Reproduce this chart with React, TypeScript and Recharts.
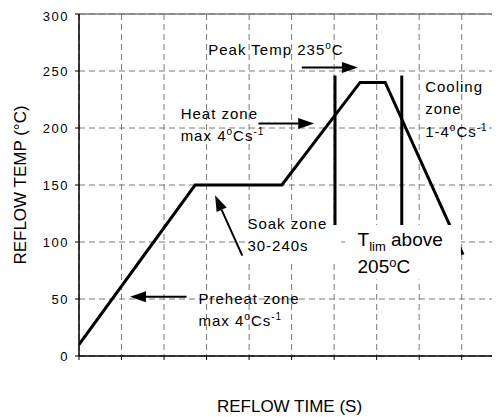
import React from "react";
import {
  CartesianGrid,
  Line,
  LineChart,
  ReferenceArea,
  ReferenceDot,
  ReferenceLine,
  XAxis,
  YAxis,
  Label,
} from "recharts";

// reflow profile, time in grid units, temp in °C
const profileTime = [0, 2.73, 4.77, 6.61, 7.2, 9.03];
const profileTemp = [10, 150, 150, 240, 240, 89];

const timeTicks = [0, 1, 2, 3, 4, 5, 6, 7, 8, 9];
const tempTicks = [0, 50, 100, 150, 200, 250, 300];

// T_lim window bars
const tlimTimes = [6.02, 7.59];
const tlimTop = 246;
const tlimBottom = 95;

// arrows: tail -> tip
const arrowTails = [
  [5.24, 253],
  [4.22, 204],
  [2.53, 52],
  [3.84, 88],
];
const arrowTips = [
  [6.56, 253],
  [5.53, 204],
  [1.2, 52],
  [3.2, 141],
];

// white boxes behind the soak and T_lim notes
const boxTimes = [
  [3.9, 6.16],
  [6.28, 8.98],
];
const boxTemps = [
  [115, 82],
  [115, 67],
];

type Seg = string | { sup: string } | { sub: string };

const notes: { at: number[]; lines: Seg[][]; big?: boolean }[] = [
  { at: [3.04, 264], lines: [["Peak Temp 235", { sup: "o" }, "C"]] },
  { at: [2.39, 208], lines: [["Heat zone"], ["max 4", { sup: "o" }, "Cs", { sup: "-1" }]] },
  { at: [8.14, 232], lines: [["Cooling"], ["zone"], ["1-4", { sup: "o" }, "Cs", { sup: "-1" }]] },
  { at: [3.96, 111.5], lines: [["Soak zone"], ["30-240s"]] },
  { at: [2.81, 46], lines: [["Preheat zone"], ["max 4", { sup: "o" }, "Cs", { sup: "-1" }]] },
  { at: [6.55, 96.5], lines: [["T", { sub: "lim" }, " above"], ["205", { sup: "o" }, "C"]], big: true },
];

const data = profileTime.map((t, i) => ({ t, temp: profileTemp[i] }));

const FONT = "'Liberation Sans', Arial, sans-serif";

const ArrowShape = (props: any) => {
  const x1 = Number(props.x1);
  const y1 = Number(props.y1);
  const x2 = Number(props.x2);
  const y2 = Number(props.y2);
  const dx = x2 - x1;
  const dy = y2 - y1;
  const len = Math.hypot(dx, dy) || 1;
  const ux = dx / len;
  const uy = dy / len;
  const hl = 16;
  const hw = 5.5;
  const bx = x2 - ux * hl;
  const by = y2 - uy * hl;
  return (
    <g>
      <line x1={x1} y1={y1} x2={bx} y2={by} stroke="#000" strokeWidth={2} />
      <polygon
        points={`${x2},${y2} ${bx - uy * hw},${by + ux * hw} ${bx + uy * hw},${by - ux * hw}`}
        fill="#000"
      />
    </g>
  );
};

const noteShape = (note: (typeof notes)[number]) => (props: any) => {
  const size = note.big ? 19 : 15;
  const small = note.big ? 13 : 10;
  const lh = note.big ? 27.5 : 22.5;
  return (
    <text
      fontFamily={FONT}
      fontSize={size}
      fill="#000"
      letterSpacing={note.big ? 0 : 1}
    >
      {note.lines.map((line, i) => {
        let shift = 0;
        return (
          <tspan key={i} x={props.cx} y={props.cy + i * lh}>
            {line.map((seg, j) => {
              let target = 0;
              let text = "";
              let fs: number | undefined;
              if (typeof seg === "string") {
                text = seg;
              } else if ("sup" in seg) {
                text = seg.sup;
                target = -6;
                fs = small;
              } else {
                text = seg.sub;
                target = 5;
                fs = small;
              }
              const d = target - shift;
              shift = target;
              return (
                <tspan key={j} dy={d} fontSize={fs}>
                  {text}
                </tspan>
              );
            })}
          </tspan>
        );
      })}
    </text>
  );
};

export default function App() {
  return (
    <LineChart
      width={492}
      height={409}
      data={data}
      margin={{ top: 6, right: 0, bottom: 0, left: 0 }}
      style={{ fontFamily: FONT }}
    >
      <CartesianGrid stroke="#7a7a7a" strokeDasharray="6 4" />
      <XAxis
        dataKey="t"
        type="number"
        domain={[0, 9.9]}
        ticks={timeTicks}
        allowDataOverflow
        height={61}
        tickSize={4}
        tickFormatter={() => ""}
        axisLine={{ stroke: "#000", strokeWidth: 1.5 }}
        tickLine={{ stroke: "#000", strokeWidth: 1 }}
      >
        <Label
          value="REFLOW TIME (S)"
          position="insideBottom"
          offset={5}
          style={{ fontSize: 17, fill: "#000", fontFamily: FONT }}
        />
      </XAxis>
      <YAxis
        type="number"
        domain={[0, 300]}
        ticks={tempTicks}
        width={71}
        tickSize={4}
        tickMargin={6}
        tick={{ fontSize: 13, fill: "#000", letterSpacing: 1.5 }}
        axisLine={{ stroke: "#000", strokeWidth: 1.5 }}
        tickLine={{ stroke: "#000", strokeWidth: 1 }}
      >
        <Label
          value="REFLOW TEMP (°C)"
          angle={-90}
          position="insideLeft"
          offset={12}
          style={{ fontSize: 17, fill: "#000", textAnchor: "middle", fontFamily: FONT }}
        />
      </YAxis>
      <ReferenceLine y={300} stroke="#7a7a7a" strokeWidth={1.5} />
      <Line
        dataKey="temp"
        stroke="#000"
        strokeWidth={3}
        dot={false}
        isAnimationActive={false}
        strokeLinejoin="miter"
        zIndex={400}
      />
      {tlimTimes.map((t) => (
        <ReferenceLine
          key={t}
          segment={[
            { x: t, y: tlimTop },
            { x: t, y: tlimBottom },
          ]}
          stroke="#000"
          strokeWidth={3}
          zIndex={410}
        />
      ))}
      {boxTimes.map((bt, i) => (
        <ReferenceArea
          key={i}
          x1={bt[0]}
          x2={bt[1]}
          y1={boxTemps[i][0]}
          y2={boxTemps[i][1]}
          fill="#fff"
          fillOpacity={1}
          stroke="none"
          zIndex={500}
        />
      ))}
      {arrowTails.map((tail, i) => (
        <ReferenceLine
          key={i}
          segment={[
            { x: tail[0], y: tail[1] },
            { x: arrowTips[i][0], y: arrowTips[i][1] },
          ]}
          shape={ArrowShape}
          zIndex={600}
        />
      ))}
      {notes.map((n, i) => (
        <ReferenceDot
          key={i}
          x={n.at[0]}
          y={n.at[1]}
          r={1}
          shape={noteShape(n)}
          zIndex={700}
        />
      ))}
    </LineChart>
  );
}
